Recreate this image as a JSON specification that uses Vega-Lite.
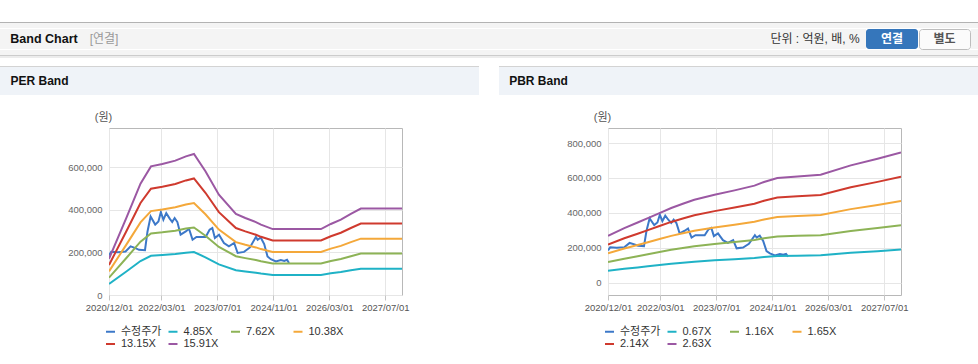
{
  "$schema": "https://vega.github.io/schema/vega-lite/v6.json",
  "background": "#ffffff",
  "padding": {"left": 0, "top": 22, "right": 0, "bottom": 0},
  "config": {
    "font": "Liberation Sans, Noto Sans CJK KR",
    "view": {"stroke": null},
    "text": {"font": "Liberation Sans, Noto Sans CJK KR"}
  },
  "datasets": {
    "blank": [],
    "price": [
      {"d": "2020-12-01", "s": "수정주가", "v": 185000},
      {"d": "2020-12-20", "s": "수정주가", "v": 203000},
      {"d": "2021-02-15", "s": "수정주가", "v": 201000},
      {"d": "2021-04-24", "s": "수정주가", "v": 204000},
      {"d": "2021-06-07", "s": "수정주가", "v": 228000},
      {"d": "2021-07-19", "s": "수정주가", "v": 220000},
      {"d": "2021-08-19", "s": "수정주가", "v": 212000},
      {"d": "2021-10-10", "s": "수정주가", "v": 210000},
      {"d": "2021-11-01", "s": "수정주가", "v": 298000},
      {"d": "2021-11-28", "s": "수정주가", "v": 368000},
      {"d": "2022-01-07", "s": "수정주가", "v": 330000},
      {"d": "2022-02-04", "s": "수정주가", "v": 345000},
      {"d": "2022-02-25", "s": "수정주가", "v": 389000},
      {"d": "2022-03-19", "s": "수정주가", "v": 353000},
      {"d": "2022-04-13", "s": "수정주가", "v": 384000},
      {"d": "2022-05-13", "s": "수정주가", "v": 358000},
      {"d": "2022-06-04", "s": "수정주가", "v": 342000},
      {"d": "2022-06-25", "s": "수정주가", "v": 361000},
      {"d": "2022-07-19", "s": "수정주가", "v": 342000},
      {"d": "2022-08-16", "s": "수정주가", "v": 283000},
      {"d": "2022-09-30", "s": "수정주가", "v": 298000},
      {"d": "2022-10-28", "s": "수정주가", "v": 311000},
      {"d": "2022-11-28", "s": "수정주가", "v": 259000},
      {"d": "2023-01-01", "s": "수정주가", "v": 272000},
      {"d": "2023-03-22", "s": "수정주가", "v": 272000},
      {"d": "2023-04-25", "s": "수정주가", "v": 306000},
      {"d": "2023-05-19", "s": "수정주가", "v": 314000},
      {"d": "2023-06-10", "s": "수정주가", "v": 267000},
      {"d": "2023-07-16", "s": "수정주가", "v": 283000},
      {"d": "2023-08-28", "s": "수정주가", "v": 244000},
      {"d": "2023-10-10", "s": "수정주가", "v": 228000},
      {"d": "2023-11-25", "s": "수정주가", "v": 244000},
      {"d": "2023-12-25", "s": "수정주가", "v": 197000},
      {"d": "2024-02-19", "s": "수정주가", "v": 202000},
      {"d": "2024-04-10", "s": "수정주가", "v": 223000},
      {"d": "2024-06-01", "s": "수정주가", "v": 272000},
      {"d": "2024-06-16", "s": "수정주가", "v": 259000},
      {"d": "2024-07-13", "s": "수정주가", "v": 270000},
      {"d": "2024-08-12", "s": "수정주가", "v": 239000},
      {"d": "2024-09-10", "s": "수정주가", "v": 181000},
      {"d": "2024-10-09", "s": "수정주가", "v": 168000},
      {"d": "2024-11-22", "s": "수정주가", "v": 157000},
      {"d": "2025-01-04", "s": "수정주가", "v": 164000},
      {"d": "2025-02-03", "s": "수정주가", "v": 160000},
      {"d": "2025-02-27", "s": "수정주가", "v": 165000},
      {"d": "2025-03-16", "s": "수정주가", "v": 150000}
    ],
    "perBands": [
      {"d": "2020-12-01", "s": "4.85X", "v": 51800},
      {"d": "2021-05-01", "s": "4.85X", "v": 110400},
      {"d": "2021-09-01", "s": "4.85X", "v": 159100},
      {"d": "2021-12-01", "s": "4.85X", "v": 183800},
      {"d": "2022-03-10", "s": "4.85X", "v": 187200},
      {"d": "2022-07-01", "s": "4.85X", "v": 192000},
      {"d": "2022-10-01", "s": "4.85X", "v": 198100},
      {"d": "2022-12-10", "s": "4.85X", "v": 201500},
      {"d": "2023-03-20", "s": "4.85X", "v": 176800},
      {"d": "2023-07-15", "s": "4.85X", "v": 143300},
      {"d": "2023-12-10", "s": "4.85X", "v": 115800},
      {"d": "2024-03-01", "s": "4.85X", "v": 110000},
      {"d": "2024-06-01", "s": "4.85X", "v": 104300},
      {"d": "2024-07-15", "s": "4.85X", "v": 100600},
      {"d": "2024-10-25", "s": "4.85X", "v": 94200},
      {"d": "2025-12-19", "s": "4.85X", "v": 94200},
      {"d": "2026-03-15", "s": "4.85X", "v": 101500},
      {"d": "2026-06-10", "s": "4.85X", "v": 107600},
      {"d": "2026-09-05", "s": "4.85X", "v": 115800},
      {"d": "2026-12-01", "s": "4.85X", "v": 123500},
      {"d": "2027-11-24", "s": "4.85X", "v": 123500},
      {"d": "2020-12-01", "s": "7.62X", "v": 81400},
      {"d": "2021-05-01", "s": "7.62X", "v": 173400},
      {"d": "2021-09-01", "s": "7.62X", "v": 250000},
      {"d": "2021-12-01", "s": "7.62X", "v": 288800},
      {"d": "2022-03-10", "s": "7.62X", "v": 294100},
      {"d": "2022-07-01", "s": "7.62X", "v": 301700},
      {"d": "2022-10-01", "s": "7.62X", "v": 311300},
      {"d": "2022-12-10", "s": "7.62X", "v": 316600},
      {"d": "2023-03-20", "s": "7.62X", "v": 277800},
      {"d": "2023-07-15", "s": "7.62X", "v": 225100},
      {"d": "2023-12-10", "s": "7.62X", "v": 182000},
      {"d": "2024-03-01", "s": "7.62X", "v": 172900},
      {"d": "2024-06-01", "s": "7.62X", "v": 163800},
      {"d": "2024-07-15", "s": "7.62X", "v": 158100},
      {"d": "2024-10-25", "s": "7.62X", "v": 148000},
      {"d": "2025-12-19", "s": "7.62X", "v": 148000},
      {"d": "2026-03-15", "s": "7.62X", "v": 159500},
      {"d": "2026-06-10", "s": "7.62X", "v": 169100},
      {"d": "2026-09-05", "s": "7.62X", "v": 182000},
      {"d": "2026-12-01", "s": "7.62X", "v": 194000},
      {"d": "2027-11-24", "s": "7.62X", "v": 194000},
      {"d": "2020-12-01", "s": "10.38X", "v": 110900},
      {"d": "2021-05-01", "s": "10.38X", "v": 236200},
      {"d": "2021-09-01", "s": "10.38X", "v": 340600},
      {"d": "2021-12-01", "s": "10.38X", "v": 393400},
      {"d": "2022-03-10", "s": "10.38X", "v": 400600},
      {"d": "2022-07-01", "s": "10.38X", "v": 411000},
      {"d": "2022-10-01", "s": "10.38X", "v": 424100},
      {"d": "2022-12-10", "s": "10.38X", "v": 431300},
      {"d": "2023-03-20", "s": "10.38X", "v": 378400},
      {"d": "2023-07-15", "s": "10.38X", "v": 306600},
      {"d": "2023-12-10", "s": "10.38X", "v": 247900},
      {"d": "2024-03-01", "s": "10.38X", "v": 235500},
      {"d": "2024-06-01", "s": "10.38X", "v": 223100},
      {"d": "2024-07-15", "s": "10.38X", "v": 215300},
      {"d": "2024-10-25", "s": "10.38X", "v": 201600},
      {"d": "2025-12-19", "s": "10.38X", "v": 201600},
      {"d": "2026-03-15", "s": "10.38X", "v": 217300},
      {"d": "2026-06-10", "s": "10.38X", "v": 230300},
      {"d": "2026-09-05", "s": "10.38X", "v": 247900},
      {"d": "2026-12-01", "s": "10.38X", "v": 264200},
      {"d": "2027-11-24", "s": "10.38X", "v": 264200},
      {"d": "2020-12-01", "s": "13.15X", "v": 140500},
      {"d": "2021-05-01", "s": "13.15X", "v": 299200},
      {"d": "2021-09-01", "s": "13.15X", "v": 431400},
      {"d": "2021-12-01", "s": "13.15X", "v": 498400},
      {"d": "2022-03-10", "s": "13.15X", "v": 507500},
      {"d": "2022-07-01", "s": "13.15X", "v": 520700},
      {"d": "2022-10-01", "s": "13.15X", "v": 537200},
      {"d": "2022-12-10", "s": "13.15X", "v": 546300},
      {"d": "2023-03-20", "s": "13.15X", "v": 479400},
      {"d": "2023-07-15", "s": "13.15X", "v": 388500},
      {"d": "2023-12-10", "s": "13.15X", "v": 314100},
      {"d": "2024-03-01", "s": "13.15X", "v": 298400},
      {"d": "2024-06-01", "s": "13.15X", "v": 282700},
      {"d": "2024-07-15", "s": "13.15X", "v": 272800},
      {"d": "2024-10-25", "s": "13.15X", "v": 255400},
      {"d": "2025-12-19", "s": "13.15X", "v": 255400},
      {"d": "2026-03-15", "s": "13.15X", "v": 275200},
      {"d": "2026-06-10", "s": "13.15X", "v": 291800},
      {"d": "2026-09-05", "s": "13.15X", "v": 314100},
      {"d": "2026-12-01", "s": "13.15X", "v": 334700},
      {"d": "2027-11-24", "s": "13.15X", "v": 334700},
      {"d": "2020-12-01", "s": "15.91X", "v": 170000},
      {"d": "2021-05-01", "s": "15.91X", "v": 362000},
      {"d": "2021-09-01", "s": "15.91X", "v": 522000},
      {"d": "2021-12-01", "s": "15.91X", "v": 603000},
      {"d": "2022-03-10", "s": "15.91X", "v": 614000},
      {"d": "2022-07-01", "s": "15.91X", "v": 630000},
      {"d": "2022-10-01", "s": "15.91X", "v": 650000},
      {"d": "2022-12-10", "s": "15.91X", "v": 661000},
      {"d": "2023-03-20", "s": "15.91X", "v": 580000},
      {"d": "2023-07-15", "s": "15.91X", "v": 470000},
      {"d": "2023-12-10", "s": "15.91X", "v": 380000},
      {"d": "2024-03-01", "s": "15.91X", "v": 361000},
      {"d": "2024-06-01", "s": "15.91X", "v": 342000},
      {"d": "2024-07-15", "s": "15.91X", "v": 330000},
      {"d": "2024-10-25", "s": "15.91X", "v": 309000},
      {"d": "2025-12-19", "s": "15.91X", "v": 309000},
      {"d": "2026-03-15", "s": "15.91X", "v": 333000},
      {"d": "2026-06-10", "s": "15.91X", "v": 353000},
      {"d": "2026-09-05", "s": "15.91X", "v": 380000},
      {"d": "2026-12-01", "s": "15.91X", "v": 405000},
      {"d": "2027-11-24", "s": "15.91X", "v": 405000}
    ],
    "pbrBands": [
      {"d": "2020-12-01", "s": "0.67X", "v": 68500},
      {"d": "2021-04-22", "s": "0.67X", "v": 79700},
      {"d": "2021-08-16", "s": "0.67X", "v": 87900},
      {"d": "2021-11-13", "s": "0.67X", "v": 94300},
      {"d": "2022-02-22", "s": "0.67X", "v": 101600},
      {"d": "2022-06-04", "s": "0.67X", "v": 109000},
      {"d": "2022-09-13", "s": "0.67X", "v": 115100},
      {"d": "2022-12-22", "s": "0.67X", "v": 121000},
      {"d": "2023-06-16", "s": "0.67X", "v": 128400},
      {"d": "2023-12-07", "s": "0.67X", "v": 134800},
      {"d": "2024-05-28", "s": "0.67X", "v": 141600},
      {"d": "2024-08-19", "s": "0.67X", "v": 147000},
      {"d": "2024-12-13", "s": "0.67X", "v": 152900},
      {"d": "2025-06-07", "s": "0.67X", "v": 155100},
      {"d": "2025-12-25", "s": "0.67X", "v": 157400},
      {"d": "2026-09-13", "s": "0.67X", "v": 171200},
      {"d": "2027-05-04", "s": "0.67X", "v": 180900},
      {"d": "2027-11-24", "s": "0.67X", "v": 190000},
      {"d": "2020-12-01", "s": "1.16X", "v": 118600},
      {"d": "2021-04-22", "s": "1.16X", "v": 138100},
      {"d": "2021-08-16", "s": "1.16X", "v": 152200},
      {"d": "2021-11-13", "s": "1.16X", "v": 163200},
      {"d": "2022-02-22", "s": "1.16X", "v": 176000},
      {"d": "2022-06-04", "s": "1.16X", "v": 188800},
      {"d": "2022-09-13", "s": "1.16X", "v": 199400},
      {"d": "2022-12-22", "s": "1.16X", "v": 209500},
      {"d": "2023-06-16", "s": "1.16X", "v": 222300},
      {"d": "2023-12-07", "s": "1.16X", "v": 233300},
      {"d": "2024-05-28", "s": "1.16X", "v": 245200},
      {"d": "2024-08-19", "s": "1.16X", "v": 254500},
      {"d": "2024-12-13", "s": "1.16X", "v": 264600},
      {"d": "2025-06-07", "s": "1.16X", "v": 268600},
      {"d": "2025-12-25", "s": "1.16X", "v": 272600},
      {"d": "2026-09-13", "s": "1.16X", "v": 296400},
      {"d": "2027-05-04", "s": "1.16X", "v": 313200},
      {"d": "2027-11-24", "s": "1.16X", "v": 329000},
      {"d": "2020-12-01", "s": "1.65X", "v": 168800},
      {"d": "2021-04-22", "s": "1.65X", "v": 196400},
      {"d": "2021-08-16", "s": "1.65X", "v": 216400},
      {"d": "2021-11-13", "s": "1.65X", "v": 232100},
      {"d": "2022-02-22", "s": "1.65X", "v": 250300},
      {"d": "2022-06-04", "s": "1.65X", "v": 268500},
      {"d": "2022-09-13", "s": "1.65X", "v": 283600},
      {"d": "2022-12-22", "s": "1.65X", "v": 298000},
      {"d": "2023-06-16", "s": "1.65X", "v": 316200},
      {"d": "2023-12-07", "s": "1.65X", "v": 331900},
      {"d": "2024-05-28", "s": "1.65X", "v": 348800},
      {"d": "2024-08-19", "s": "1.65X", "v": 362000},
      {"d": "2024-12-13", "s": "1.65X", "v": 376400},
      {"d": "2025-06-07", "s": "1.65X", "v": 382100},
      {"d": "2025-12-25", "s": "1.65X", "v": 387700},
      {"d": "2026-09-13", "s": "1.65X", "v": 421600},
      {"d": "2027-05-04", "s": "1.65X", "v": 445400},
      {"d": "2027-11-24", "s": "1.65X", "v": 468000},
      {"d": "2020-12-01", "s": "2.14X", "v": 218900},
      {"d": "2021-04-22", "s": "2.14X", "v": 254700},
      {"d": "2021-08-16", "s": "2.14X", "v": 280700},
      {"d": "2021-11-13", "s": "2.14X", "v": 301100},
      {"d": "2022-02-22", "s": "2.14X", "v": 324700},
      {"d": "2022-06-04", "s": "2.14X", "v": 348300},
      {"d": "2022-09-13", "s": "2.14X", "v": 367800},
      {"d": "2022-12-22", "s": "2.14X", "v": 386500},
      {"d": "2023-06-16", "s": "2.14X", "v": 410100},
      {"d": "2023-12-07", "s": "2.14X", "v": 430400},
      {"d": "2024-05-28", "s": "2.14X", "v": 452400},
      {"d": "2024-08-19", "s": "2.14X", "v": 469500},
      {"d": "2024-12-13", "s": "2.14X", "v": 488200},
      {"d": "2025-06-07", "s": "2.14X", "v": 495500},
      {"d": "2025-12-25", "s": "2.14X", "v": 502900},
      {"d": "2026-09-13", "s": "2.14X", "v": 546800},
      {"d": "2027-05-04", "s": "2.14X", "v": 577700},
      {"d": "2027-11-24", "s": "2.14X", "v": 607000},
      {"d": "2020-12-01", "s": "2.63X", "v": 269000},
      {"d": "2021-04-22", "s": "2.63X", "v": 313000},
      {"d": "2021-08-16", "s": "2.63X", "v": 345000},
      {"d": "2021-11-13", "s": "2.63X", "v": 370000},
      {"d": "2022-02-22", "s": "2.63X", "v": 399000},
      {"d": "2022-06-04", "s": "2.63X", "v": 428000},
      {"d": "2022-09-13", "s": "2.63X", "v": 452000},
      {"d": "2022-12-22", "s": "2.63X", "v": 475000},
      {"d": "2023-06-16", "s": "2.63X", "v": 504000},
      {"d": "2023-12-07", "s": "2.63X", "v": 529000},
      {"d": "2024-05-28", "s": "2.63X", "v": 556000},
      {"d": "2024-08-19", "s": "2.63X", "v": 577000},
      {"d": "2024-12-13", "s": "2.63X", "v": 600000},
      {"d": "2025-06-07", "s": "2.63X", "v": 609000},
      {"d": "2025-12-25", "s": "2.63X", "v": 618000},
      {"d": "2026-09-13", "s": "2.63X", "v": 672000},
      {"d": "2027-05-04", "s": "2.63X", "v": 710000},
      {"d": "2027-11-24", "s": "2.63X", "v": 746000}
    ]
  },
  "spacing": 8,
  "resolve": {"scale": {"color": "independent"}, "legend": {"color": "independent"}},
  "vconcat": [
    {
      "spacing": 0,
      "vconcat": [
        {"width": 978, "height": 1, "view": {"fill": "#b3b3b3"}, "data": {"name": "blank"}, "mark": "text", "encoding": {"text": {"value": ""}}},
        {"width": 978, "height": 5, "view": {"fill": "#f4f4f4"}, "data": {"name": "blank"}, "mark": "text", "encoding": {"text": {"value": ""}}},
        {
          "spacing": 0,
          "hconcat": [
            {"width": 88, "height": 20, "view": {"fill": "#f4f4f4"}, "data": {"values": [{"t": "Band Chart"}]},
             "mark": {"type": "text", "align": "center", "baseline": "middle", "fontSize": 12.5, "fontWeight": "bold", "color": "#111111"},
             "encoding": {"text": {"field": "t", "type": "nominal"}}},
            {"width": 32, "height": 20, "view": {"fill": "#f4f4f4"}, "data": {"values": [{"t": "[연결]"}]},
             "mark": {"type": "text", "align": "center", "baseline": "middle", "fontSize": 12, "color": "#999999"},
             "encoding": {"text": {"field": "t", "type": "nominal"}}},
            {"width": 644, "height": 20, "view": {"fill": "#f4f4f4"}, "data": {"name": "blank"}, "mark": "text", "encoding": {"text": {"value": ""}}},
            {"width": 102, "height": 20, "view": {"fill": "#f4f4f4"}, "data": {"values": [{"t": "단위 : 억원, 배, %"}]},
             "mark": {"type": "text", "align": "center", "baseline": "middle", "fontSize": 12, "color": "#333333"},
             "encoding": {"text": {"field": "t", "type": "nominal"}}},
            {"width": 52, "height": 20, "view": {"fill": "#3576bb", "cornerRadius": 3}, "data": {"values": [{"t": "연결"}]},
             "mark": {"type": "text", "align": "center", "baseline": "middle", "fontSize": 12, "fontWeight": "bold", "color": "#ffffff"},
             "encoding": {"text": {"field": "t", "type": "nominal"}}},
            {"width": 51, "height": 20, "view": {"fill": "#fbfbfb", "stroke": "#bdbdbd", "cornerRadius": 3}, "data": {"values": [{"t": "별도"}]},
             "mark": {"type": "text", "align": "center", "baseline": "middle", "fontSize": 12, "fontWeight": "bold", "color": "#555555"},
             "encoding": {"text": {"field": "t", "type": "nominal"}}},
            {"width": 9, "height": 20, "view": {"fill": "#f4f4f4"}, "data": {"name": "blank"}, "mark": "text", "encoding": {"text": {"value": ""}}}
          ]
        },
        {"width": 978, "height": 5, "view": {"fill": "#f4f4f4"}, "data": {"name": "blank"}, "mark": "text", "encoding": {"text": {"value": ""}}},
        {"width": 978, "height": 1, "view": {"fill": "#cccccc"}, "data": {"name": "blank"}, "mark": "text", "encoding": {"text": {"value": ""}}},
        {"width": 978, "height": 2, "view": {"fill": "#ececec"}, "data": {"name": "blank"}, "mark": "text", "encoding": {"text": {"value": ""}}}
      ]
    },
    {
      "spacing": 20,
      "resolve": {"scale": {"color": "independent"}, "legend": {"color": "independent"}},
      "hconcat": [
        {
          "spacing": 0,
          "resolve": {"scale": {"color": "independent"}, "legend": {"color": "independent"}},
          "vconcat": [
            {"width": 479, "height": 1, "view": {"fill": "#d3d3d3"}, "data": {"name": "blank"}, "mark": "text", "encoding": {"text": {"value": ""}}},
            {
              "spacing": 0,
              "hconcat": [
                {"width": 79, "height": 28, "view": {"fill": "#eff3f8"}, "data": {"values": [{"t": "PER Band"}]},
                 "mark": {"type": "text", "align": "center", "baseline": "middle", "fontSize": 12, "fontWeight": "bold", "color": "#111111"},
                 "encoding": {"text": {"field": "t", "type": "nominal"}}},
                {"width": 400, "height": 28, "view": {"fill": "#eff3f8"}, "data": {"name": "blank"}, "mark": "text", "encoding": {"text": {"value": ""}}}
              ]
            },
            {"width": 479, "height": 14.5, "data": {"name": "blank"}, "mark": "text", "encoding": {"text": {"value": ""}}},
            {
              "spacing": 0,
              "resolve": {"scale": {"color": "independent"}, "legend": {"color": "independent"}},
              "hconcat": [
                {"width": 66.7, "height": 167, "data": {"name": "blank"}, "mark": "text", "encoding": {"text": {"value": ""}}},
                {
                  "width": 293,
                  "height": 167,
                  "view": {"stroke": "#b8b8b8", "strokeWidth": 1},
                  "encoding": {
                    "x": {"field": "d", "type": "temporal",
                      "scale": {"type": "utc", "nice": false, "domain": [{"year": 2020, "month": 12, "date": 1, "utc": true}, {"year": 2027, "month": 11, "date": 24, "utc": true}]},
                      "axis": {"title": null, "format": "%Y/%m/%d", "labelFlush": false, "labelOverlap": false, "labelFontSize": 9.5, "labelColor": "#555555", "labelPadding": 2, "tickSize": 5, "tickColor": "#c4c4c4", "domain": false, "grid": true, "gridColor": "#e6e6e6",
                        "values": [
                          {"year": 2020, "month": 12, "date": 1, "utc": true},
                          {"year": 2022, "month": 3, "date": 1, "utc": true},
                          {"year": 2023, "month": 7, "date": 1, "utc": true},
                          {"year": 2024, "month": 11, "date": 1, "utc": true},
                          {"year": 2026, "month": 3, "date": 1, "utc": true},
                          {"year": 2027, "month": 7, "date": 1, "utc": true}
                        ]}},
                    "y": {"field": "v", "type": "quantitative",
                      "scale": {"domain": [0, 783000], "nice": false, "zero": false},
                      "axis": {"title": "(원)", "titleAngle": 0, "titleX": -6, "titleY": -11, "titleAlign": "center", "titleBaseline": "middle", "titleFontSize": 11, "titleFontWeight": "normal", "titleColor": "#555555",
                        "values": [0, 200000, 400000, 600000], "format": ",d", "labelFontSize": 9.5, "labelColor": "#666666", "labelPadding": 7, "ticks": false, "domain": false, "grid": true, "gridColor": "#e6e6e6"}},
                    "color": {"field": "s", "type": "nominal",
                      "scale": {"domain": ["수정주가", "4.85X", "7.62X", "10.38X", "13.15X", "15.91X"], "range": ["#3c78c8", "#1fb2c6", "#8db356", "#f4a83a", "#cf3a2e", "#9b58a3"]},
                      "legend": {"title": null, "orient": "none", "legendX": -4, "legendY": 198, "direction": "horizontal", "columns": 4, "symbolType": "stroke", "symbolSize": 81, "symbolStrokeWidth": 2, "labelFontSize": 11, "labelColor": "#333333", "labelOffset": 5, "columnPadding": 2.5, "rowPadding": 0.5, "gridAlign": "all", "padding": 0}}
                  },
                  "layer": [
                    {"data": {"name": "price"}, "mark": {"type": "line", "strokeWidth": 2, "clip": true}, "encoding": {}},
                    {"data": {"name": "perBands"}, "mark": {"type": "line", "strokeWidth": 2, "clip": true}, "encoding": {}}
                  ]
                }
              ]
            }
          ]
        },
        {
          "spacing": 0,
          "resolve": {"scale": {"color": "independent"}, "legend": {"color": "independent"}},
          "vconcat": [
            {"width": 479, "height": 1, "view": {"fill": "#d3d3d3"}, "data": {"name": "blank"}, "mark": "text", "encoding": {"text": {"value": ""}}},
            {
              "spacing": 0,
              "hconcat": [
                {"width": 79, "height": 28, "view": {"fill": "#eff3f8"}, "data": {"values": [{"t": "PBR Band"}]},
                 "mark": {"type": "text", "align": "center", "baseline": "middle", "fontSize": 12, "fontWeight": "bold", "color": "#111111"},
                 "encoding": {"text": {"field": "t", "type": "nominal"}}},
                {"width": 400, "height": 28, "view": {"fill": "#eff3f8"}, "data": {"name": "blank"}, "mark": "text", "encoding": {"text": {"value": ""}}}
              ]
            },
            {"width": 479, "height": 14.5, "data": {"name": "blank"}, "mark": "text", "encoding": {"text": {"value": ""}}},
            {
              "spacing": 0,
              "resolve": {"scale": {"color": "independent"}, "legend": {"color": "independent"}},
              "hconcat": [
                {"width": 66.7, "height": 167, "data": {"name": "blank"}, "mark": "text", "encoding": {"text": {"value": ""}}},
                {
                  "width": 293,
                  "height": 167,
                  "view": {"stroke": "#b8b8b8", "strokeWidth": 1},
                  "encoding": {
                    "x": {"field": "d", "type": "temporal",
                      "scale": {"type": "utc", "nice": false, "domain": [{"year": 2020, "month": 12, "date": 1, "utc": true}, {"year": 2027, "month": 11, "date": 24, "utc": true}]},
                      "axis": {"title": null, "format": "%Y/%m/%d", "labelFlush": false, "labelOverlap": false, "labelFontSize": 9.5, "labelColor": "#555555", "labelPadding": 2, "tickSize": 5, "tickColor": "#c4c4c4", "domain": false, "grid": true, "gridColor": "#e6e6e6",
                        "values": [
                          {"year": 2020, "month": 12, "date": 1, "utc": true},
                          {"year": 2022, "month": 3, "date": 1, "utc": true},
                          {"year": 2023, "month": 7, "date": 1, "utc": true},
                          {"year": 2024, "month": 11, "date": 1, "utc": true},
                          {"year": 2026, "month": 3, "date": 1, "utc": true},
                          {"year": 2027, "month": 7, "date": 1, "utc": true}
                        ]}},
                    "y": {"field": "v", "type": "quantitative",
                      "scale": {"domain": [-70000, 886000], "nice": false, "zero": false},
                      "axis": {"title": "(원)", "titleAngle": 0, "titleX": -6, "titleY": -11, "titleAlign": "center", "titleBaseline": "middle", "titleFontSize": 11, "titleFontWeight": "normal", "titleColor": "#555555",
                        "values": [0, 200000, 400000, 600000, 800000], "format": ",d", "labelFontSize": 9.5, "labelColor": "#666666", "labelPadding": 7, "ticks": false, "domain": false, "grid": true, "gridColor": "#e6e6e6"}},
                    "color": {"field": "s", "type": "nominal",
                      "scale": {"domain": ["수정주가", "0.67X", "1.16X", "1.65X", "2.14X", "2.63X"], "range": ["#3c78c8", "#1fb2c6", "#8db356", "#f4a83a", "#cf3a2e", "#9b58a3"]},
                      "legend": {"title": null, "orient": "none", "legendX": -4, "legendY": 198, "direction": "horizontal", "columns": 4, "symbolType": "stroke", "symbolSize": 81, "symbolStrokeWidth": 2, "labelFontSize": 11, "labelColor": "#333333", "labelOffset": 5, "columnPadding": 2.5, "rowPadding": 0.5, "gridAlign": "all", "padding": 0}}
                  },
                  "layer": [
                    {"data": {"name": "price"}, "mark": {"type": "line", "strokeWidth": 2, "clip": true}, "encoding": {}},
                    {"data": {"name": "pbrBands"}, "mark": {"type": "line", "strokeWidth": 2, "clip": true}, "encoding": {}}
                  ]
                }
              ]
            }
          ]
        }
      ]
    }
  ]
}
